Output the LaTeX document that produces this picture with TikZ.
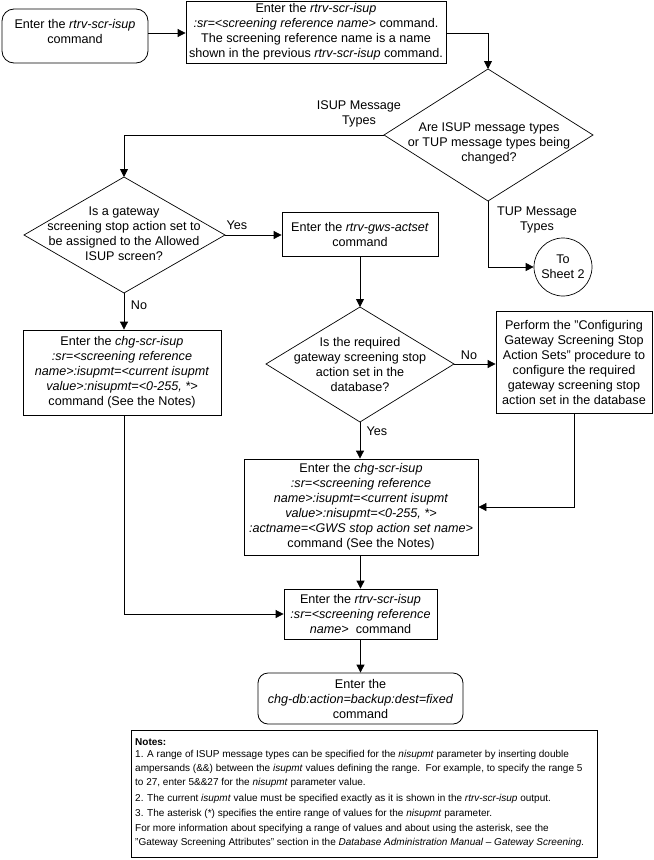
\documentclass[tikz,border=0pt]{standalone}
\usepackage{fontspec}
\setmainfont{Liberation Sans}
\usetikzlibrary{arrows.meta}
\begin{document}
\begin{tikzpicture}[x=1bp,y=-1bp,
  every node/.style={font=\fontsize{12.6bp}{15bp}\selectfont, align=center, inner sep=0pt},
  box/.style={draw, line width=0.8bp},
  rbox/.style={draw, line width=0.8bp, rounded corners=12bp},
  dia/.style={draw, line width=0.7bp},
  arr/.style={-{Triangle[length=8bp,width=8bp]}, line width=0.8bp},
  ln/.style={line width=0.8bp},
  note/.style={anchor=west, align=left, font=\fontsize{10bp}{14bp}\selectfont}]
\useasboundingbox (0,0) rectangle (654,860);
% top row
\node[rbox, minimum width=146bp, minimum height=54bp] (start) at (75,36) {};
\node (starttext) at (75,31.5) {Enter the \textit{rtrv-scr-isup}\\command};
\node[box, minimum width=260bp, minimum height=62bp] (b2) at (316,32) {Enter the \textit{rtrv-scr-isup}\\\textit{:sr=<screening reference name>} command.\\The screening reference name is a name\\shown in the previous \textit{rtrv-scr-isup} command.};
% diamond 1
\coordinate (d1t) at (488,69);
\coordinate (d1r) at (593,135);
\coordinate (d1b) at (488,201);
\coordinate (d1l) at (384,135);
\draw[dia] (d1t) -- (d1r) -- (d1b) -- (d1l) -- cycle;
\node (d1) at (489,143) {Are ISUP message types\\or TUP message types being\\changed?};
\node (isuplbl) at (359,114) {ISUP Message\\Types};
\node (tuplbl) at (537,220) {TUP Message\\Types};
\node[draw, circle, line width=0.7bp, minimum size=58bp] (sheet) at (563,267) {To\\Sheet 2};
% diamond 2
\coordinate (d2t) at (124,177);
\coordinate (d2r) at (225,235);
\coordinate (d2b) at (124,293);
\coordinate (d2l) at (24,235);
\draw[dia] (d2t) -- (d2r) -- (d2b) -- (d2l) -- cycle;
\node (d2) at (124,234) {Is a gateway\\screening stop action set to\\be assigned to the Allowed\\ISUP screen?};
\node (yes1) at (237,225) {Yes};
\node[box, minimum width=156bp, minimum height=44bp] (b3) at (360,234) {Enter the \textit{rtrv-gws-actset}\\command};
% diamond 3
\coordinate (d3t) at (360,307);
\coordinate (d3r) at (454,364);
\coordinate (d3b) at (360,422);
\coordinate (d3l) at (266,364);
\draw[dia] (d3t) -- (d3r) -- (d3b) -- (d3l) -- cycle;
\node (d3) at (360,364) {Is the required\\gateway screening stop\\action set in the\\database?};
\node (no2) at (469,355) {No};
\node[box, minimum width=156bp, minimum height=102bp] (b4) at (574,362) {Perform the "Configuring\\Gateway Screening Stop\\Action Sets" procedure to\\configure the required\\gateway screening stop\\action set in the database};
\node[box, minimum width=198bp, minimum height=85bp] (bchg) at (122,372.5) {Enter the \textit{chg-scr-isup}\\\textit{:sr=<screening reference}\\\textit{name>:isupmt=<current isupmt}\\\textit{value>:nisupmt=<0-255, *>}\\command (See the Notes)};
\node (no1) at (139,305) {No};
\node (yes2) at (377,431) {Yes};
\node[box, minimum width=234bp, minimum height=96bp] (b5) at (361,507) {Enter the \textit{chg-scr-isup}\\\textit{:sr=<screening reference}\\\textit{name>:isupmt=<current isupmt}\\\textit{value>:nisupmt=<0-255, *>}\\\textit{:actname=<GWS stop action set name>}\\command (See the Notes)};
\node[box, minimum width=153bp, minimum height=50bp] (b6) at (360.5,614) {Enter the \textit{rtrv-scr-isup}\\\textit{:sr=<screening reference}\\\textit{name>}\ \ command};
\node[rbox, rounded corners=10bp, minimum width=205bp, minimum height=51bp] (b7) at (360.5,698.5) {Enter the\\\textit{chg-db:action=backup:dest=fixed}\\command};
% notes
\node[box, minimum width=466bp, minimum height=127bp] (notes) at (364,793.5) {};
\node[note] (n0) at (135,742) {\textbf{Notes:}};
\node[note] (n1) at (135,754.5) {1. A range of ISUP message types can be specified for the \textit{nisupmt} parameter by inserting double};
\node[note] (n2) at (135,768.5) {ampersands (\&\&) between the \textit{isupmt} values defining the range.\ \ For example, to specify the range 5};
\node[note] (n3) at (135,783) {to 27, enter 5\&\&27 for the \textit{nisupmt} parameter value.};
\node[note] (n4) at (135,799) {2. The current \textit{isupmt} value must be specified exactly as it is shown in the \textit{rtrv-scr-isup} output.};
\node[note] (n5) at (135,814) {3. The asterisk (*) specifies the entire range of values for the \textit{nisupmt} parameter.};
\node[note] (n6) at (135,829) {For more information about specifying a range of values and about using the asterisk, see the};
\node[note] (n7) at (135,843) {"Gateway Screening Attributes" section in the \textit{Database Administration Manual -- Gateway Screening.}};
% connectors
\draw[arr] (start.east |- 0,33) -- (b2.west |- 0,33);
\draw[arr] (b2.east |- 0,33) -| (d1t);
\draw[arr] (d1l) -| (d2t);
\draw[arr] (d1b) |- (sheet.west);
\draw[arr] (d2r) -- (b3.west |- d2r);
\draw[arr] (d2b) -- (d2b |- bchg.north);
\draw[arr] (b3.south) -- (d3t);
\draw[arr] (d3r) -- (b4.west |- d3r);
\draw[arr] (d3b) -- (d3b |- b5.north);
\draw[arr] (b4.south) |- (b5.east);
\draw[arr] (b5.south -| b6.north) -- (b6.north);
\draw[arr] (d2b |- bchg.south) |- (b6.west);
\draw[arr] (b6.south) -- (b7.north);
\end{tikzpicture}
\end{document}
